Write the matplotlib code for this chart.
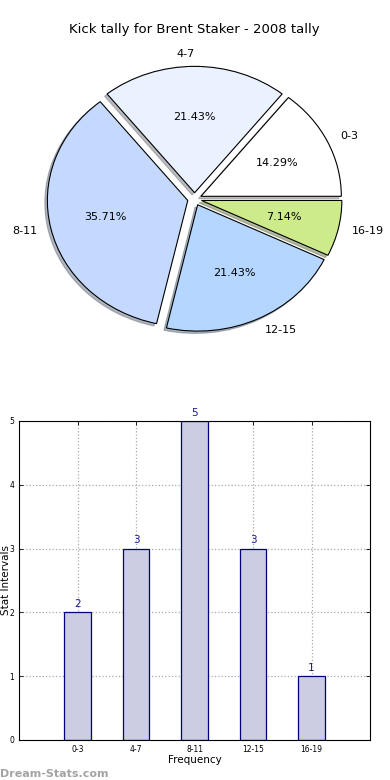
import numpy as np
import matplotlib
matplotlib.use('Agg')
import matplotlib.pyplot as plt

# kick tally data
labels = ['0-3', '4-7', '8-11', '12-15', '16-19']
counts = [2, 3, 5, 3, 1]
pie_colors = ['#FFFFFF', '#EAF1FF', '#C5D9FF', '#B5D7FF', '#CEEB8C']
explode = [0.05, 0.05, 0.05, 0.05, 0.05]

fig = plt.figure(figsize=(3.9, 7.8), dpi=100)

# pie on top (old style, not equal aspect)
ax1 = fig.add_axes([0.049, 0.5423, 0.9, 0.405])
ax1.pie(counts, labels=labels, colors=pie_colors, explode=explode,
        autopct='%1.2f%%', startangle=0,
        shadow={'ox': -0.013, 'oy': -0.013, 'shade': 0.5},
        wedgeprops={'edgecolor': 'black', 'linewidth': 0.8},
        textprops={'fontsize': 8})
ax1.set_aspect('auto')
ax1.set_xlim(-1.25, 1.25)
ax1.set_ylim(-1.25, 1.25)
ax1.set_title('Kick tally for Brent Staker - 2008 tally', fontsize=9.5, pad=6)

# bar chart below
ax2 = fig.add_axes([0.049, 0.0513, 0.9, 0.409])
x = np.arange(len(labels))
bars = ax2.bar(x, counts, width=0.45, color='#CCCCE2', edgecolor='#000080', linewidth=0.9, zorder=2)
for b, c in zip(bars, counts):
    ax2.text(b.get_x() + b.get_width() / 2, c + 0.05, str(c), ha='center', va='bottom',
             color='#1a1a8c', fontsize=7.5)
ax2.set_xlim(-1, 5)
ax2.set_ylim(0, 5)
ax2.set_xticks(x)
ax2.set_xticklabels(labels, fontsize=5.5)
ax2.set_yticks(range(6))
ax2.tick_params(axis='y', labelsize=5.5)
ax2.tick_params(direction='in', top=True, right=True, length=3, width=0.6)
ax2.grid(True, linestyle=':', color='#aaaaaa', linewidth=0.9, zorder=0)
ax2.set_xlabel('Frequency', fontsize=7.5, labelpad=1)
ax2.set_ylabel('Stat Intervals', fontsize=7.5, va='top')
ax2.yaxis.set_label_coords(-0.052, 0.5)

fig.text(0.0, 0.004, 'Dream-Stats.com', fontsize=8, color='#9a9a9a', fontweight='bold', alpha=0.9)

plt.savefig('out.png', dpi=100)
